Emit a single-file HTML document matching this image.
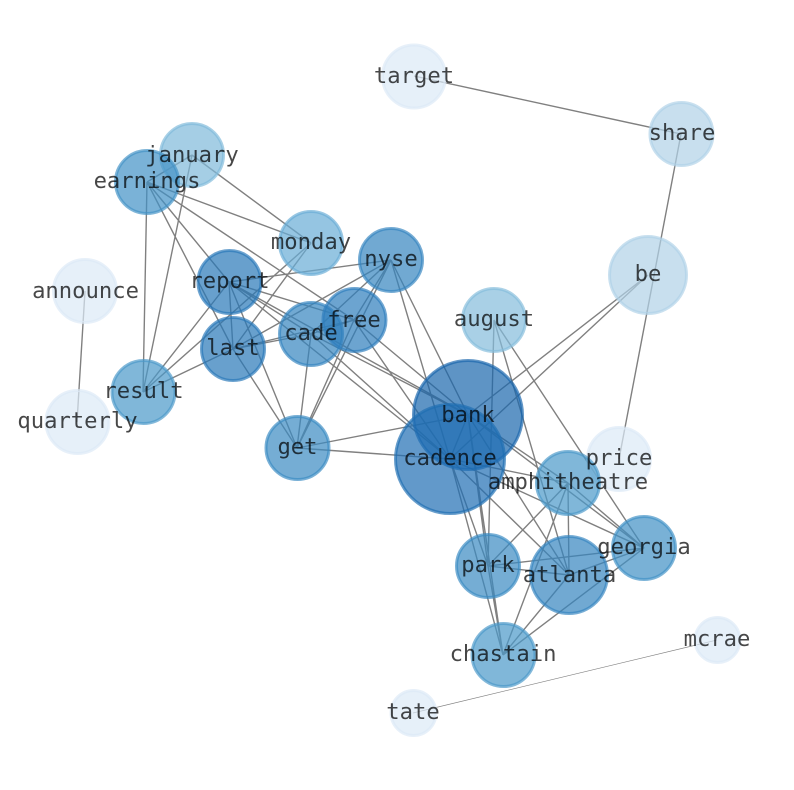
<!DOCTYPE html>
<html><head><meta charset="utf-8"><style>
html,body{margin:0;padding:0;background:#fff;width:794px;height:790px;overflow:hidden}
svg{display:block}
text{font-family:"DejaVu Sans Mono",monospace;font-size:22.2px;fill:#000;fill-opacity:.72;text-anchor:middle}
path{fill:none;stroke:#808080;stroke-width:1.4}
circle{fill-opacity:.7;stroke-opacity:.68;stroke-width:3}
</style></head><body>
<svg width="794" height="790" viewBox="0 0 794 790" xmlns="http://www.w3.org/2000/svg">
<path d="M414 76L681 134L619 459M85 291L77 422M648 275L468 415M648 275L450 459M192 155L147 182M192 155L311 243M192 155L143 392M147 182L311 243M147 182L229 282M147 182L233 349M147 182L143 392M147 182L354 320M311 243L233 349M311 243L143 392M229 282L391 260M229 282L233 349M229 282L143 392M229 282L297 448M229 282L311 334M229 282L354 320M229 282L468 415M229 282L450 459M391 260L233 349M391 260L311 334M391 260L354 320M391 260L297 448M391 260L468 415M391 260L450 459M233 349L354 320M233 349L311 334M233 349L143 392M233 349L297 448M311 334L354 320M311 334L297 448M311 334L468 415M311 334L450 459M354 320L297 448M354 320L468 415M354 320L450 459M297 448L468 415M297 448L450 459M468 415L450 459M468 415L568 483M468 415L644 548M468 415L569 575M468 415L488 566M468 415L503 655M450 459L568 483M450 459L644 548M450 459L569 575M450 459L488 566M450 459L503 655M494 320L644 548M494 320L569 575M494 320L488 566M568 483L644 548M568 483L569 575M568 483L488 566M568 483L503 655M644 548L569 575M644 548L488 566M644 548L503 655M488 566L569 575M488 566L503 655M569 575L503 655"/>
<path style="stroke-width:.7" d="M717 640L413 713"/>
<circle cx="414" cy="76.5" r="31.5" fill="#dbe9f6" stroke="#dbe9f6"/>
<circle cx="681.5" cy="134" r="31.5" fill="#b0d2e7" stroke="#b0d2e7"/>
<circle cx="192" cy="155" r="31.5" fill="#7fb9da" stroke="#7fb9da"/>
<circle cx="147" cy="182" r="31.5" fill="#4292c6" stroke="#4292c6"/>
<circle cx="311" cy="243" r="31.5" fill="#68acd5" stroke="#68acd5"/>
<circle cx="391" cy="260" r="31.5" fill="#3585bf" stroke="#3585bf"/>
<circle cx="229.5" cy="282" r="31.5" fill="#2878b8" stroke="#2878b8"/>
<circle cx="85" cy="291" r="31.5" fill="#dbe9f6" stroke="#dbe9f6"/>
<circle cx="648" cy="275" r="38.5" fill="#b0d2e7" stroke="#b0d2e7"/>
<circle cx="311" cy="334" r="31.5" fill="#3585bf" stroke="#3585bf"/>
<circle cx="354.5" cy="320" r="31.5" fill="#2e7ebc" stroke="#2e7ebc"/>
<circle cx="494" cy="320" r="31.5" fill="#85bcdc" stroke="#85bcdc"/>
<circle cx="233" cy="349" r="31.5" fill="#2878b8" stroke="#2878b8"/>
<circle cx="143.5" cy="392" r="31.5" fill="#4a98c9" stroke="#4a98c9"/>
<circle cx="77.5" cy="422" r="31.5" fill="#dbe9f6" stroke="#dbe9f6"/>
<circle cx="468" cy="415" r="54.5" fill="#1966ad" stroke="#1966ad"/>
<circle cx="450" cy="459" r="54.5" fill="#1f6eb3" stroke="#1f6eb3"/>
<circle cx="297.5" cy="448" r="31.5" fill="#3a8ac2" stroke="#3a8ac2"/>
<circle cx="619" cy="459" r="31.5" fill="#dbe9f6" stroke="#dbe9f6"/>
<circle cx="568" cy="483" r="31.5" fill="#4a98c9" stroke="#4a98c9"/>
<circle cx="644" cy="548" r="31.5" fill="#4090c5" stroke="#4090c5"/>
<circle cx="488" cy="566" r="31.5" fill="#3a8ac2" stroke="#3a8ac2"/>
<circle cx="569" cy="575" r="38.5" fill="#3585bf" stroke="#3585bf"/>
<circle cx="503.5" cy="655" r="31.5" fill="#4a98c9" stroke="#4a98c9"/>
<circle cx="717.5" cy="640" r="22.5" fill="#dbe9f6" stroke="#dbe9f6"/>
<circle cx="413.5" cy="713" r="22.5" fill="#dbe9f6" stroke="#dbe9f6"/>
<text x="414" y="83">target</text>
<text x="682" y="140">share</text>
<text x="192" y="162">january</text>
<text x="147" y="188">earnings</text>
<text x="311" y="249">monday</text>
<text x="391" y="266">nyse</text>
<text x="229.5" y="288">report</text>
<text x="85.5" y="298">announce</text>
<text x="648" y="281">be</text>
<text x="354" y="327">free</text>
<text x="494" y="326">august</text>
<text x="311" y="340">cade</text>
<text x="233" y="355">last</text>
<text x="143.5" y="398">result</text>
<text x="77.5" y="428">quarterly</text>
<text x="468" y="422">bank</text>
<text x="450" y="465">cadence</text>
<text x="297.5" y="454">get</text>
<text x="619" y="465">price</text>
<text x="568" y="489">amphitheatre</text>
<text x="644" y="554">georgia</text>
<text x="488" y="572">park</text>
<text x="569.5" y="582">atlanta</text>
<text x="503" y="661">chastain</text>
<text x="717" y="646">mcrae</text>
<text x="413" y="719">tate</text>
</svg>
</body></html>
